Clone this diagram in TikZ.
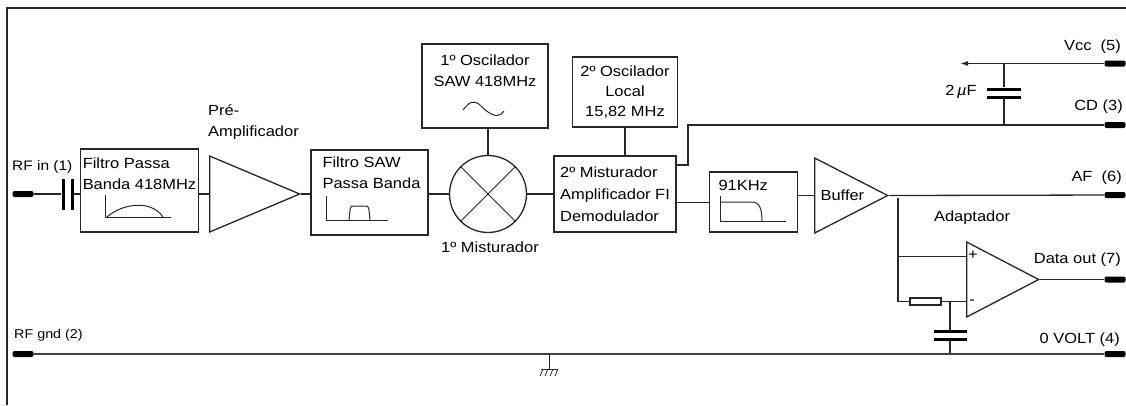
\documentclass[tikz,border=0pt]{standalone}
\usepackage{fontspec}
\setmainfont[FakeStretch=1.12]{Liberation Sans}
\usetikzlibrary{arrows.meta, calc, shapes.geometric}

\tikzset{
    wire/.style={line width=1.3pt, draw=black!85},
    railwire/.style={line width=1.8pt, draw=black!75},
    thinwire/.style={line width=1pt, draw=black!85},
    blockbox/.style={draw=black!85, line width=1.3pt, inner xsep=2pt, inner ysep=0pt, align=left},
    tribox/.style={draw=black!85, line width=1.3pt, isosceles triangle, isosceles triangle stretches, inner sep=0pt, anchor=lower side},
    padnode/.style={fill=black, rounded corners=2pt, inner sep=0pt, minimum width=21pt, minimum height=6pt},
    plate/.style={fill=black, inner sep=0pt},
    txt/.style={inner sep=0pt},
}

\begin{document}
\begin{tikzpicture}[
    x=1pt, y=-1pt,
    font=\fontsize{14.7}{21}\selectfont,
    ]
    \useasboundingbox (0,0) rectangle (1126,405);

    % Frame
    \draw[line width=2pt, black!85] (7,405) -- (7,8) -- (1126,8);

    % ==========================================
    % Pads and their labels
    % ==========================================
    \foreach \name/\x/\y in {
        rfin/23/194,
        rfgnd/23/354,
        vcc/1115/63.5,
        cd/1115/125,
        af/1115/195,
        data/1115/279.5,
        volt/1115/354}
    {
        \node[padnode] (pad-\name) at (\x,\y) {};
    }

    \node[txt, anchor=west, font=\fontsize{13.8}{16}\selectfont] (lbl-rfin) at (12,167) {RF in (1)};
    \node[txt, anchor=west, font=\fontsize{12.8}{15}\selectfont] (lbl-rfgnd) at (14,335) {RF gnd (2)};
    \node[txt, anchor=east] (lbl-vcc) at (1121,47) {Vcc\ \ (5)};
    \node[txt, anchor=east] (lbl-cd) at (1123,107) {CD (3)};
    \node[txt, anchor=east] (lbl-af) at (1122,178) {AF\ \ (6)};
    \node[txt, anchor=east] (lbl-data) at (1121,260) {Data out (7)};
    \node[txt, anchor=east] (lbl-volt) at (1120,340) {0 VOLT (4)};

    % ==========================================
    % Signal chain blocks
    % ==========================================
    \node[blockbox, minimum width=117pt, minimum height=83pt] (filtro1) at (139.5,190.5)
        {Filtro Passa\\Banda 418MHz\\[13pt]\mbox{}};
    \node[tribox, minimum width=76pt, minimum height=90pt] (preamp) at (209,194) {};
    \node[txt, anchor=north west, align=left] (lbl-preamp) at (208,104) {Pré-\\Amplificador};

    \node[blockbox, minimum width=117pt, minimum height=85pt] (filtro2) at (369.5,192.5)
        {\hspace*{4pt}Filtro SAW\\\hspace*{4pt}Passa Banda\\[18pt]\mbox{}};

    \node[circle, draw=black!85, line width=1.3pt, minimum size=77pt, inner sep=0pt] (mix1) at (488,194) {};
    \node[txt] (lbl-mix1) at (490,247) {1º Misturador};

    \node[blockbox, minimum width=126pt, minimum height=84pt, align=center] (osc1) at (485,86)
        {1º Oscilador\\SAW 418MHz\\[10pt]\mbox{}};

    \node[blockbox, minimum width=122pt, minimum height=76pt, font=\fontsize{14.7}{22}\selectfont] (mix2) at (615,194)
        {2º Misturador\\Amplificador FI\\Demodulador};

    \node[blockbox, minimum width=105pt, minimum height=70pt, align=center, font=\fontsize{14.7}{20}\selectfont] (osc2) at (625,92)
        {2º Oscilador\\Local\\15,82 MHz};

    \node[blockbox, minimum width=88pt, minimum height=60pt, text width=70pt, inner xsep=9pt] (fi) at (753.5,202)
        {91KHz\\[13pt]\mbox{}};

    \node[tribox, minimum width=75pt, minimum height=73pt, align=center] (buffer) at (814,195.5) {Buffer};

    \node[tribox, minimum width=75pt, minimum height=72pt] (opamp) at (966,279.5) {};
    \node[txt] (lbl-plus) at (973,255) {+};
    \node[txt] (lbl-minus) at (972,302) {-};
    \node[txt] (lbl-adapt) at (972,218) {Adaptador};

    % Icons inside the blocks
    \draw[thinwire] (105,195) -- (105,217) -- (171,217);
    \draw[thinwire] (107,217) .. controls (120,205) and (150,198) .. (163,217);
    \draw[thinwire] (326,196) -- (326,220) -- (388,220);
    \draw[thinwire] (349,220) -- (350,210) .. controls (351,206) .. (354,206) -- (365,206) .. controls (368,206) .. (369,210) -- (370,220);
    \draw[thinwire] (463,110) .. controls (470,101) and (474,100) .. (480,105) .. controls (487,112) and (497,121) .. (504,111);
    \draw[thinwire] (720,196) -- (720,221) -- (786,221);
    \draw[thinwire] (720,202) -- (752,202) .. controls (760,202) and (762,210) .. (762,221);
    \draw[thinwire] (mix1.45) -- (mix1.225);
    \draw[thinwire] (mix1.135) -- (mix1.315);

    % ==========================================
    % Capacitors and passive parts
    % ==========================================
    \node[plate, minimum width=3pt, minimum height=31pt] (cin-a) at (63,194) {};
    \node[plate, minimum width=3pt, minimum height=31pt] (cin-b) at (72,194) {};
    \node[plate, minimum width=34pt, minimum height=3pt] (cvcc-a) at (1004,89) {};
    \node[plate, minimum width=34pt, minimum height=3pt] (cvcc-b) at (1004,97) {};
    \node[txt] (lbl-cvcc) at (961,92) {2\,\textit{µ}F};
    \node[plate, minimum width=33pt, minimum height=3pt] (cad-a) at (950,331.5) {};
    \node[plate, minimum width=33pt, minimum height=3pt] (cad-b) at (950,339) {};
    \node[draw=black!85, line width=1.1pt, inner sep=0pt, minimum width=31pt, minimum height=7pt] (rad) at (925.5,301.5) {};

    % ==========================================
    % Junctions
    % ==========================================
    \coordinate (vccend) at (960,63.5);
    \coordinate (vcctap) at (1004,63.5);
    \coordinate (cdtap) at (1004,125);
    \coordinate (cdout) at (676,165);
    \coordinate (cdbend) at (688,125);
    \coordinate (fiin) at (676,202.5);
    \coordinate (aftop) at (898,198);
    \coordinate (adplus) at (898,256.5);
    \coordinate (adminus) at (898,301.5);
    \coordinate (adnode) at (950,301.5);
    \coordinate (cadgnd) at (950,354);
    \coordinate (gndtap) at (549,354);
    \coordinate (gndbar) at (549,369);

    % ==========================================
    % Connectors
    % ==========================================
    \draw[wire] (pad-rfin) -- (cin-a);
    \draw[wire] (cin-b) -- (filtro1.west |- cin-b);
    \draw[wire] (filtro1.east |- preamp.lower side) -- (preamp.lower side);
    \draw[wire] (preamp.apex) -- (filtro2.west |- preamp.apex);
    \draw[wire] (filtro2.east |- mix1.west) -- (mix1.west);
    \draw[wire] (osc1.south -| mix1.north) -- (mix1.north);
    \draw[wire] (mix1.east) -- (mix2.west |- mix1.east);
    \draw[wire] (osc2.south) -- (mix2.north -| osc2.south);
    \draw[wire] (fiin) -- (fi.west |- fiin);
    \draw[wire] (fi.east |- buffer.lower side) -- (buffer.lower side);
    \draw[wire] (buffer.apex) -- (pad-af);
    \draw[wire] (cdout) -| (cdbend) -- (pad-cd);
    \draw[-{Latex[length=8pt, width=5pt]}, wire] (pad-vcc) -- (vccend);
    \draw[wire] (vcctap) -- (cvcc-a);
    \draw[wire] (cvcc-b) -- (cdtap);
    \draw[wire] (aftop) -- (adminus) -- (rad);
    \draw[wire] (adplus) -- (adplus -| opamp.lower side);
    \draw[wire] (rad) -- (adminus -| opamp.lower side);
    \draw[wire] (adnode) -- (cad-a);
    \draw[wire] (cad-b) -- (cadgnd);
    \draw[wire] (opamp.apex) -- (pad-data);
    \draw[railwire] (pad-rfgnd) -- (pad-volt);

    % Ground symbol
    \draw[thinwire] (gndtap) -- (gndbar);
    \draw[thinwire] (541,369) -- (558,369);
    \foreach \x in {543,548,553,558} {
        \draw[line width=0.8pt, black!85] (\x,369) -- (\x-3,376);
    }

\end{tikzpicture}
\end{document}
